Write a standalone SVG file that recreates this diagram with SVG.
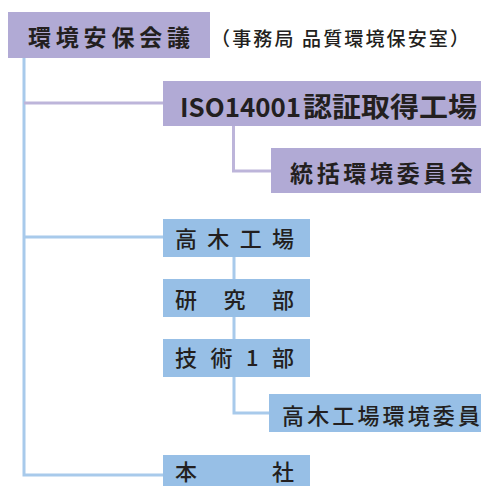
<svg xmlns="http://www.w3.org/2000/svg" width="481" height="486" viewBox="0 0 481 486">
<style>
.lav{fill:#b1aad5}
.blu{fill:#97bfe6}
.t{font-family:"Noto Sans CJK JP","Noto Sans",sans-serif;fill:#231f20}
.b{font-weight:700;font-size:23px}
.r{font-weight:500;font-size:22px}
.lb{fill:none;stroke:#a8caeb;stroke-width:3}
.ll{fill:none;stroke:#bdb5da;stroke-width:3}
</style>
<rect width="481" height="486" fill="#fff"/>
<g id="connectors">
<path class="lb" d="M24,58 V475 H163"/>
<path class="ll" d="M24,103 H163"/>
<path class="ll" d="M233.5,126 V171 H271"/>
<path class="lb" d="M24,237 H163"/>
<path class="lb" d="M234,257 V279 M234,317 V339"/>
<path class="lb" d="M234,377 V413 H269"/>
</g>
<g id="n1">
<rect class="lav" x="8" y="12" width="202" height="46"/>
<text class="t b" x="28" y="46" textLength="162" lengthAdjust="spacing">環境安保会議</text>
</g>
<g id="note">
<text class="t" x="211" y="46" font-size="19" font-weight="500" textLength="258" lengthAdjust="spacing">（事務局 品質環境保安室）</text>
</g>
<g id="n2">
<rect class="lav" x="163" y="81" width="318" height="45"/>
<text class="t b" x="180" y="117"><tspan x="180" font-size="26" textLength="121" lengthAdjust="spacingAndGlyphs">ISO14001</tspan><tspan x="303" font-size="27" textLength="174" lengthAdjust="spacingAndGlyphs">認証取得工場</tspan></text>
</g>
<g id="n3">
<rect class="lav" x="271" y="148" width="210" height="45"/>
<text class="t b" x="290" y="182" textLength="183" lengthAdjust="spacing">統括環境委員会</text>
</g>
<g id="n4">
<rect class="blu" x="163" y="219" width="147" height="38"/>
<text class="t r" x="175" y="247" textLength="119" lengthAdjust="spacing">高木工場</text>
</g>
<g id="n5">
<rect class="blu" x="163" y="279" width="147" height="38"/>
<text class="t r" x="175" y="308" textLength="119" lengthAdjust="spacing">研究部</text>
</g>
<g id="n6">
<rect class="blu" x="163" y="339" width="147" height="38"/>
<text class="t r" x="175" y="366" textLength="119" lengthAdjust="spacing">技術1部</text>
</g>
<g id="n7">
<rect class="blu" x="269" y="394" width="212" height="38"/>
<text class="t r" x="282" y="424" textLength="198" lengthAdjust="spacing">高木工場環境委員</text>
</g>
<g id="n8">
<rect class="blu" x="163" y="455" width="147" height="31"/>
<text class="t r" x="175" y="480" textLength="119" lengthAdjust="spacing">本社</text>
</g>
</svg>
